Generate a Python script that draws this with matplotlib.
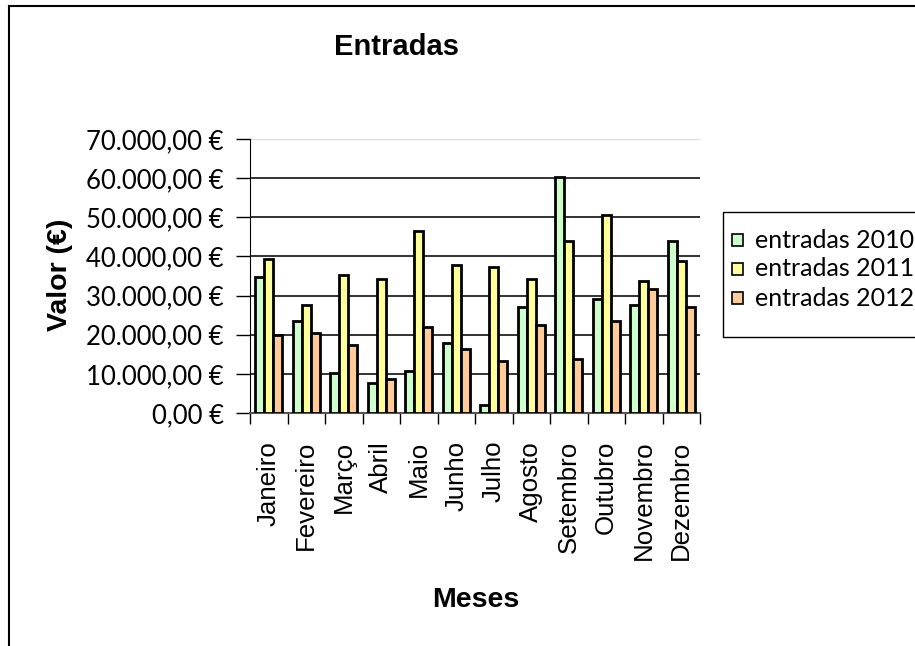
import matplotlib
matplotlib.use("Agg")
import matplotlib.pyplot as plt
import numpy as np
from matplotlib.patches import Rectangle
from matplotlib.lines import Line2D

months = ["Janeiro", "Fevereiro", "Março", "Abril", "Maio", "Junho",
          "Julho", "Agosto", "Setembro", "Outubro", "Novembro", "Dezembro"]
entradas_2010 = [34800, 23500, 10200, 7700, 10700, 17900, 2000, 27100, 60400, 29100, 27600, 44000]
entradas_2011 = [39400, 27600, 35300, 34300, 46600, 37900, 37300, 34300, 44000, 50600, 33800, 38900]
entradas_2012 = [19900, 20500, 17300, 8700, 21900, 16300, 13300, 22500, 13800, 23500, 31700, 27100]
series_names = ["entradas 2010", "entradas 2011", "entradas 2012"]
colors = ["#CCFFCC", "#FFFF99", "#FFCC99"]
yticks = [0, 10000, 20000, 30000, 40000, 50000, 60000, 70000]
ytick_labels = ["0,00 €", "10.000,00 €", "20.000,00 €", "30.000,00 €",
                "40.000,00 €", "50.000,00 €", "60.000,00 €", "70.000,00 €"]

W, H = 915, 646
fig = plt.figure(figsize=(W / 100, H / 100), dpi=100)

def px(x0, y0, x1, y1):
    return [x0 / W, 1 - y1 / H, (x1 - x0) / W, (y1 - y0) / H]

ax = fig.add_axes(px(250, 139, 700, 413))

x = np.arange(len(months))
bw = 0.237
data = [entradas_2010, entradas_2011, entradas_2012]
for i, (vals, c, name) in enumerate(zip(data, colors, series_names)):
    ax.bar(x + (i - 1) * bw, vals, width=bw, color=c, edgecolor="black",
           linewidth=2, label=name, zorder=3)

ax.set_xlim(-0.5, len(months) - 0.5)
ax.set_ylim(0, 70000)
ax.set_yticks(yticks)
ax.set_yticklabels(ytick_labels, fontfamily="Lato", fontsize=18.5)
ax.yaxis.grid(True, color="#222222", linewidth=1.3, zorder=0)
ax.set_axisbelow(True)

ax.set_xticks(x)
ax.set_xticklabels(months, rotation=90, fontfamily="Liberation Sans", fontsize=18.6,
                   ha="center", va="top")
ax.set_xticks(np.arange(-0.5, len(months), 1.0), minor=True)
ax.tick_params(axis="x", which="major", length=0, pad=20)
ax.tick_params(axis="x", which="minor", length=8, width=1, color="black", direction="out")
ax.tick_params(axis="y", length=10, width=1, color="black", direction="out", pad=9)

for s in ["top", "right"]:
    ax.spines[s].set_visible(False)
ax.spines["left"].set_color("black")
ax.spines["bottom"].set_color("#555555")
ax.spines["bottom"].set_linewidth(1.5)
ax.axhline(70000, color="#dddddd", linewidth=1, zorder=1)

# Title and axis labels
fig.text(397 / W, 1 - 47 / H, "Entradas", fontfamily="Liberation Sans",
         fontweight="bold", fontsize=21, ha="center", va="center")
fig.text(60 / W, 1 - 275 / H, "Valor (€)", fontfamily="Liberation Sans",
         fontweight="bold", fontsize=20.5, ha="center", va="center", rotation=90)
fig.text(476 / W, 1 - 600 / H, "Meses", fontfamily="Liberation Sans",
         fontweight="bold", fontsize=20.5, ha="center", va="center")

# Legend box (extends beyond right edge)
fig.patches.append(Rectangle((723 / W, 1 - 337 / H), 220 / W, 125 / H,
                             transform=fig.transFigure, facecolor="white",
                             edgecolor="black", linewidth=1))
for i, (name, c) in enumerate(zip(series_names, colors)):
    yc = 240 + 29 * i
    fig.patches.append(Rectangle((732 / W, 1 - (yc + 6) / H), 11 / W, 12 / H,
                                 transform=fig.transFigure, facecolor=c,
                                 edgecolor="black", linewidth=1.2))
    fig.text(755 / W, 1 - yc / H, name, fontfamily="Lato", fontsize=18,
             ha="left", va="center")

# Outer chart border (partial, cropped)
fig.add_artist(Line2D([9 / W, 9 / W], [0, 1 - 6 / H], transform=fig.transFigure,
                      color="black", linewidth=1.5))
fig.add_artist(Line2D([9 / W, 1], [1 - 6 / H, 1 - 6 / H], transform=fig.transFigure,
                      color="black", linewidth=1.5))

fig.savefig("out.png", dpi=100)
